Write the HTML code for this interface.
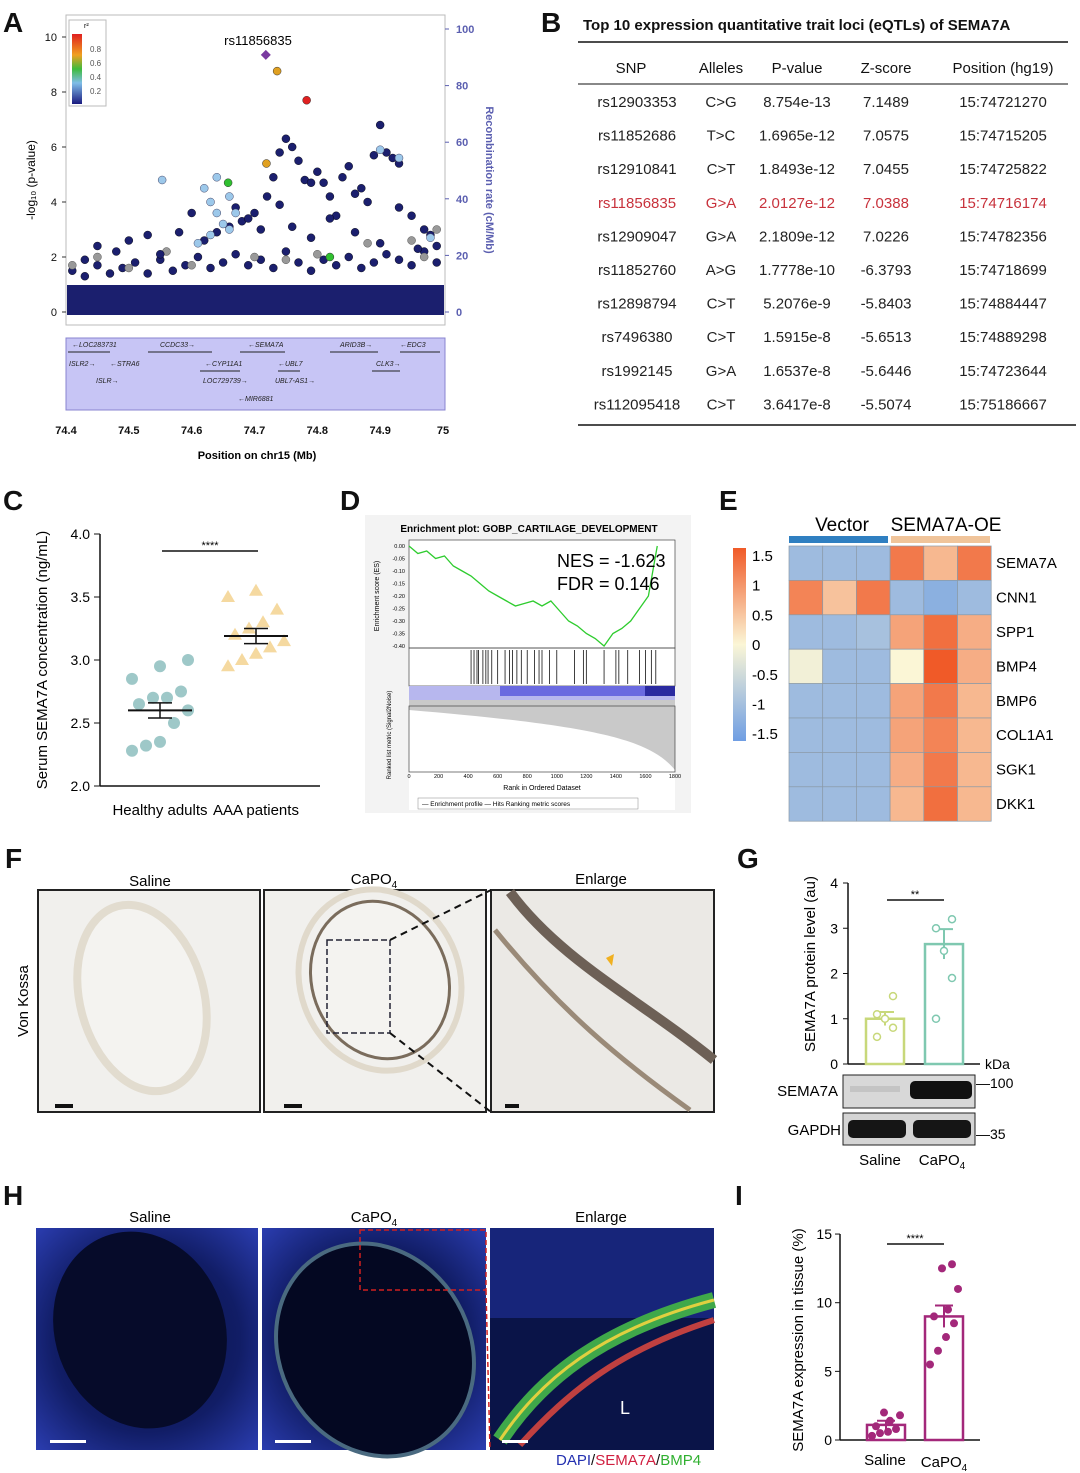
<!DOCTYPE html>
<html><head><meta charset="utf-8"><style>
body{margin:0;background:#fff}
svg{display:block;font-family:"Liberation Sans",Arial,sans-serif}
</style></head><body>
<svg id="fig" width="1080" height="1473" viewBox="0 0 1080 1473" xmlns="http://www.w3.org/2000/svg">
<defs>
<linearGradient id="cbar" x1="0" y1="1" x2="0" y2="0"><stop offset="0" stop-color="#6f9ee3"/><stop offset="0.5" stop-color="#fbf6d6"/><stop offset="1" stop-color="#f05a28"/></linearGradient>
<radialGradient id="dapi" cx="0.5" cy="0.5" r="0.7"><stop offset="0" stop-color="#0a1240"/><stop offset="0.6" stop-color="#111d66"/><stop offset="1" stop-color="#2a3cae"/></radialGradient>
<linearGradient id="leg" x1="0" y1="1" x2="0" y2="0"><stop offset="0" stop-color="#1a1a80"/><stop offset="0.3" stop-color="#7fbde8"/><stop offset="0.5" stop-color="#3dbb3d"/><stop offset="0.7" stop-color="#f0a020"/><stop offset="1" stop-color="#e02020"/></linearGradient>
</defs>

<g font-size="28" font-weight="bold" fill="#111">
<text x="3" y="32">A</text>
<text x="541" y="32">B</text>
<text x="3" y="510">C</text>
<text x="340" y="510">D</text>
<text x="719" y="510">E</text>
<text x="5" y="868">F</text>
<text x="737" y="868">G</text>
<text x="3" y="1205">H</text>
<text x="735" y="1205">I</text>
</g>

<g>
<rect x="66" y="15" width="379" height="310" fill="none" stroke="#bbb"/>
<rect x="67" y="285" width="377" height="30" fill="#1b1f6e"/>
<g id="aMarks"></g>
<g id="aAxes" font-size="11" fill="#111"></g>
<text x="258" y="45" font-size="13" text-anchor="middle">rs11856835</text>
<g><rect x="69" y="20" width="37" height="86" fill="#fff" stroke="#bbb"/>
<rect x="72" y="34" width="10" height="70" fill="url(#leg)"/>
<text x="84" y="28" font-size="7">r²</text>
<g font-size="8" fill="#555"><text x="90" y="52">0.8</text><text x="90" y="66">0.6</text><text x="90" y="80">0.4</text><text x="90" y="94">0.2</text></g></g>
<text transform="translate(35,180) rotate(-90)" font-size="12" text-anchor="middle">-log₁₀ (p-value)</text>
<text transform="translate(486,180) rotate(90)" font-size="11" font-weight="bold" fill="#5b5fb0" text-anchor="middle">Recombination rate (cM/Mb)</text>
<rect x="66" y="338" width="379" height="72" fill="#c7c5f5" stroke="#8884d0"/>
<g font-size="7" font-style="italic" fill="#222">
<text x="72" y="347">←LOC283731</text><text x="160" y="347">CCDC33→</text><text x="248" y="347">←SEMA7A</text><text x="340" y="347">ARID3B→</text><text x="400" y="347">←EDC3</text>
<text x="69" y="366">ISLR2→</text><text x="110" y="366">←STRA6</text><text x="205" y="366">←CYP11A1</text><text x="278" y="366">←UBL7</text><text x="376" y="366">CLK3→</text>
<text x="96" y="383">ISLR→</text><text x="203" y="383">LOC729739→</text><text x="275" y="383">UBL7-AS1→</text><text x="238" y="401">←MIR6881</text>
</g>
<g stroke="#222" stroke-width="1"><line x1="68" y1="352" x2="110" y2="352"/><line x1="148" y1="352" x2="212" y2="352"/><line x1="240" y1="352" x2="285" y2="352"/><line x1="330" y1="352" x2="378" y2="352"/><line x1="400" y1="352" x2="440" y2="352"/><line x1="200" y1="371" x2="240" y2="371"/><line x1="278" y1="371" x2="300" y2="371"/><line x1="372" y1="371" x2="400" y2="371"/></g>
<text x="257" y="459" font-size="11" font-weight="bold" text-anchor="middle">Position on chr15 (Mb)</text>
</g>

<g font-size="15" fill="#111">
<text x="583" y="30" font-size="15" font-weight="bold">Top 10 expression quantitative trait loci (eQTLs) of SEMA7A</text>
<line x1="578" y1="42" x2="1068" y2="42" stroke="#111" stroke-width="1.5"/>
<line x1="578" y1="84" x2="1068" y2="84" stroke="#111"/>
<line x1="578" y1="425" x2="1076" y2="425" stroke="#111" stroke-width="1.5"/>
<g id="tbl"></g>
</g>

<g><g id="cChart" font-size="14"></g>
<text transform="translate(47,660) rotate(-90)" font-size="15" text-anchor="middle">Serum SEMA7A concentration (ng/mL)</text></g>

<g>
<rect x="365" y="515" width="326" height="298" fill="#f3f3f3"/>
<rect x="409" y="540" width="266" height="270" fill="#fff"/>
<text x="529" y="532" font-size="10" font-weight="bold" text-anchor="middle">Enrichment plot: GOBP_CARTILAGE_DEVELOPMENT</text>
<rect x="409" y="540" width="266" height="108" fill="none" stroke="#444" stroke-width="0.7"/>
<rect x="409" y="648" width="266" height="38" fill="none" stroke="#444" stroke-width="0.7"/>
<rect x="409" y="686" width="266" height="20" fill="#b7b7ee"/><rect x="500" y="686" width="145" height="10" fill="#6a6ae0"/><rect x="645" y="686" width="30" height="10" fill="#2a2aa0"/>
<path d="M409,700 L675,700 L675,770 C650,740 600,726 409,710 Z" fill="#c9c9c9"/>
<rect x="409" y="706" width="266" height="66" fill="none" stroke="#444" stroke-width="0.7"/>
<g id="dChart"></g>
<text x="557" y="567" font-size="18">NES = -1.623</text>
<text x="557" y="590" font-size="18">FDR = 0.146</text>
<text x="542" y="790" font-size="7" text-anchor="middle">Rank in Ordered Dataset</text>
<text transform="translate(379,596) rotate(-90)" font-size="7" text-anchor="middle">Enrichment score (ES)</text>
<text transform="translate(391,735) rotate(-90)" font-size="6" text-anchor="middle">Ranked list metric (Signal2Noise)</text>
<rect x="418" y="798" width="220" height="11" fill="#fff" stroke="#888" stroke-width="0.5"/>
<text x="422" y="806" font-size="6.5">— Enrichment profile  — Hits        Ranking metric scores</text>
</g>

<g>
<text x="842" y="531" font-size="19" text-anchor="middle">Vector</text>
<text x="946" y="531" font-size="19" text-anchor="middle">SEMA7A-OE</text>
<rect x="789" y="536" width="99" height="7" fill="#2f7fc1"/><rect x="891" y="536" width="99" height="7" fill="#f0c49a"/>
<rect x="733" y="548" width="13" height="193" fill="url(#cbar)"/>
<g id="eChart" font-size="15"></g>
</g>

<g font-size="15">
<text x="150" y="886" text-anchor="middle">Saline</text><text x="374" y="884" text-anchor="middle">CaPO<tspan font-size="10" dy="4">4</tspan></text><text x="601" y="884" text-anchor="middle">Enlarge</text>
<text transform="translate(28,1001) rotate(-90)" text-anchor="middle" font-size="15">Von Kossa</text>
<rect x="38" y="890" width="222" height="222" fill="#f1f0ed" stroke="#222" stroke-width="2"/>
<ellipse cx="142" cy="998" rx="62" ry="95" fill="#f4f3f0" stroke="#e2dccf" stroke-width="8" transform="rotate(-15 142 998)"/>
<rect x="264" y="890" width="222" height="222" fill="#f1f0ed" stroke="#222" stroke-width="2"/>
<ellipse cx="380" cy="980" rx="68" ry="80" fill="#f4f3f0" stroke="#7a6c5c" stroke-width="3" transform="rotate(-20 380 980)"/>
<ellipse cx="380" cy="980" rx="80" ry="92" fill="none" stroke="#e0d9cb" stroke-width="6" transform="rotate(-20 380 980)"/>
<rect x="327" y="940" width="63" height="93" fill="none" stroke="#223" stroke-width="1.5" stroke-dasharray="6,3"/>
<rect x="491" y="890" width="223" height="222" fill="#ebe9e5" stroke="#222" stroke-width="2"/>
<path d="M510,892 C560,960 640,1000 714,1060" stroke="#6d6056" stroke-width="10" fill="none"/><path d="M495,930 C560,1010 620,1060 690,1110" stroke="#9a8a78" stroke-width="5" fill="none"/>
<polygon points="606,958 614,954 612,966" fill="#f0b020"/>
<line x1="390" y1="940" x2="491" y2="890" stroke="#111" stroke-width="2" stroke-dasharray="7,5"/><line x1="390" y1="1033" x2="491" y2="1112" stroke="#111" stroke-width="2" stroke-dasharray="7,5"/>
<g fill="#111"><rect x="55" y="1104" width="18" height="4"/><rect x="284" y="1104" width="18" height="4"/><rect x="505" y="1104" width="14" height="4"/></g>
</g>

<g><g id="gChart" font-size="14"></g>
<text transform="translate(815,964) rotate(-90)" font-size="15" text-anchor="middle">SEMA7A protein level (au)</text>
<text x="985" y="1069" font-size="14">kDa</text>
<rect x="843" y="1075" width="132" height="33" fill="#d8d8d8" stroke="#222"/>
<rect x="910" y="1081" width="62" height="18" rx="5" fill="#111"/><rect x="850" y="1086" width="50" height="6" fill="#c4c4c4"/>
<rect x="843" y="1113" width="132" height="32" fill="#d4d4d4" stroke="#222"/>
<rect x="848" y="1120" width="58" height="18" rx="5" fill="#151515"/><rect x="913" y="1120" width="58" height="18" rx="5" fill="#151515"/>
<text x="838" y="1096" font-size="15" text-anchor="end">SEMA7A</text><text x="841" y="1135" font-size="15" text-anchor="end">GAPDH</text>
<text x="976" y="1088" font-size="14">—100</text><text x="976" y="1139" font-size="14">—35</text>
<text x="880" y="1165" font-size="15" text-anchor="middle">Saline</text><text x="942" y="1165" font-size="15" text-anchor="middle">CaPO<tspan font-size="10" dy="4">4</tspan></text>
</g>

<g font-size="15">
<text x="150" y="1222" text-anchor="middle">Saline</text><text x="374" y="1222" text-anchor="middle">CaPO<tspan font-size="10" dy="4">4</tspan></text><text x="601" y="1222" text-anchor="middle">Enlarge</text>
<rect x="36" y="1228" width="222" height="222" fill="url(#dapi)"/>
<ellipse cx="140" cy="1330" rx="85" ry="100" fill="#060b2a" transform="rotate(-20 140 1330)"/>
<rect x="262" y="1228" width="224" height="222" fill="url(#dapi)"/>
<ellipse cx="375" cy="1350" rx="95" ry="110" fill="#040822" stroke="#4a6a80" stroke-width="4" transform="rotate(-30 375 1350)"/>
<rect x="360" y="1230" width="126" height="60" fill="none" stroke="#d02020" stroke-width="1.5" stroke-dasharray="5,3"/>
<rect x="490" y="1228" width="224" height="222" fill="#0a1448"/>
<rect x="490" y="1228" width="224" height="90" fill="#1d2c90" opacity="0.7"/>
<path d="M500,1440 C540,1380 600,1330 714,1300" stroke="#3fa84a" stroke-width="16" fill="none"/><path d="M520,1445 C570,1390 620,1350 714,1320" stroke="#c04040" stroke-width="6" fill="none"/>
<path d="M500,1440 C540,1380 600,1330 714,1300" stroke="#e0d040" stroke-width="3" fill="none"/>
<line x1="486" y1="1290" x2="490" y2="1450" stroke="#d02020" stroke-width="1.5" stroke-dasharray="5,3"/>
<text x="620" y="1414" fill="#fff" font-size="18">L</text>
<g fill="#fff"><rect x="50" y="1440" width="36" height="3"/><rect x="275" y="1440" width="36" height="3"/><rect x="502" y="1440" width="26" height="3"/></g>
<text x="556" y="1465" font-size="15"><tspan fill="#2330b0">DAPI</tspan><tspan fill="#111">/</tspan><tspan fill="#d02040">SEMA7A</tspan><tspan fill="#111">/</tspan><tspan fill="#30b030">BMP4</tspan></text>
</g>

<g><g id="iChart" font-size="14"></g>
<text transform="translate(803,1340) rotate(-90)" font-size="15" text-anchor="middle">SEMA7A expression in tissue (%)</text>
<text x="885" y="1465" font-size="15" text-anchor="middle">Saline</text><text x="944" y="1467" font-size="15" text-anchor="middle">CaPO<tspan font-size="10" dy="4">4</tspan></text>
</g>
</svg>
<script>
const NS="http://www.w3.org/2000/svg";
function mk(p,t,a,txt){const e=document.createElementNS(NS,t);for(const k in a)e.setAttribute(k,a[k]);if(txt!==undefined)e.textContent=txt;p.appendChild(e);return e;}

const aTicksY=[0,2,4,6,8,10];
const aTicksR=[0,20,40,60,80,100];
const aTicksX=[74.4,74.5,74.6,74.7,74.8,74.9,75];
const navyPos=[74.62,74.64,74.66,74.68,74.70,74.72,74.73,74.74,74.75,74.76,74.77,74.78,74.79,74.80,74.81,74.82,74.83,74.84,74.85,74.86,74.87,74.88,74.89,74.9,74.91,74.92,74.93,74.95,74.97,74.99,74.5,74.55,74.58,74.45,74.43,74.48,74.53,74.6,74.67,74.69,74.71,74.74,74.76,74.79,74.82,74.86,74.9,74.93,74.96,74.98];
const navyLogP=[2.6,2.9,3.1,3.3,3.6,4.2,4.9,5.8,6.3,6.0,5.5,4.8,4.7,5.1,4.7,4.2,3.5,4.9,5.3,4.3,4.5,4.0,5.7,6.8,5.8,5.6,5.4,3.5,3.0,2.4,2.6,2.1,2.9,2.4,1.9,2.2,2.8,3.6,3.8,3.4,3.0,3.9,3.1,2.7,3.4,2.9,2.5,3.8,2.3,2.8];
const lowPos=[74.41,74.43,74.45,74.47,74.49,74.51,74.53,74.55,74.57,74.59,74.61,74.63,74.65,74.67,74.69,74.71,74.73,74.75,74.77,74.79,74.81,74.83,74.85,74.87,74.89,74.91,74.93,74.95,74.97,74.99];
const lowLogP=[1.5,1.3,1.7,1.4,1.6,1.8,1.4,1.9,1.5,1.7,2.0,1.6,1.8,2.1,1.7,1.9,1.6,2.2,1.8,1.5,1.9,1.7,2.0,1.6,1.8,2.1,1.9,1.7,2.2,1.8];
const lbPos=[74.553,74.62,74.63,74.64,74.65,74.66,74.63,74.67,74.61,74.64,74.66,74.9,74.93,74.98];
const lbLogP=[4.8,4.5,4.0,3.6,3.2,4.2,2.8,3.6,2.5,4.9,3.0,5.9,5.6,2.7];
const grayPos=[74.41,74.45,74.5,74.56,74.6,74.7,74.75,74.8,74.88,74.95,74.99,74.97];
const grayLogP=[1.7,2.0,1.6,2.2,1.7,2.0,1.9,2.1,2.5,2.6,3.0,2.0];
const leadPos=74.718, leadLogP=9.35;
const hiPos=[74.736,74.783,74.719,74.658,74.82];
const hiLogP=[8.76,7.7,5.4,4.7,2.0];
const hiCol=["#e0a020","#e02020","#e0a020","#30c030","#30c030"];

const ax=v=>66+(v-74.4)/0.6*377, ay=v=>312-v*27.5, ayr=v=>312-v*2.83;
(function(){const g=document.getElementById('aMarks'),t=document.getElementById('aAxes');
aTicksY.forEach(v=>{mk(t,'line',{x1:62,x2:66,y1:ay(v),y2:ay(v),stroke:'#333'});mk(t,'text',{x:57,y:ay(v)+4,'text-anchor':'end'},v);});
aTicksR.forEach(v=>{mk(t,'line',{x1:445,x2:449,y1:ayr(v),y2:ayr(v),stroke:'#5b5fb0'});mk(t,'text',{x:456,y:ayr(v)+4,fill:'#5b5fb0','font-weight':'bold'},v);});
aTicksX.forEach(v=>{mk(t,'text',{x:ax(v),y:434,'text-anchor':'middle','font-weight':'bold'},v);});
lowPos.forEach((p,i)=>{const c=mk(g,'circle',{cx:ax(p),cy:ay(lowLogP[i]),r:4,fill:'#1b1f6e',stroke:'#000','stroke-width':0.4});});
grayPos.forEach((p,i)=>{const c=mk(g,'circle',{cx:ax(p),cy:ay(grayLogP[i]),r:4,fill:'#999',stroke:'#555','stroke-width':0.5});});
navyPos.forEach((p,i)=>{const c=mk(g,'circle',{cx:ax(p),cy:ay(navyLogP[i]),r:4,fill:'#1b1f6e',stroke:'#000','stroke-width':0.4});});
lbPos.forEach((p,i)=>{const c=mk(g,'circle',{cx:ax(p),cy:ay(lbLogP[i]),r:4,fill:'#9cc8ea',stroke:'#446','stroke-width':0.5});});
hiPos.forEach((p,i)=>{const c=mk(g,'circle',{cx:ax(p),cy:ay(hiLogP[i]),r:4,fill:hiCol[i],stroke:'#333','stroke-width':0.5});});
const x=ax(leadPos),y=ay(leadLogP);const d=mk(g,'polygon',{points:`${x},${y-5} ${x+5},${y} ${x},${y+5} ${x-5},${y}`,fill:'#7a3aa0'});

})();

const tHead=["SNP","Alleles","P-value","Z-score","Position (hg19)"];
const tSnp=["rs12903353","rs11852686","rs12910841","rs11856835","rs12909047","rs11852760","rs12898794","rs7496380","rs1992145","rs112095418"];
const tAll=["C>G","T>C","C>T","G>A","G>A","A>G","C>T","C>T","G>A","C>T"];
const tP=["8.754e-13","1.6965e-12","1.8493e-12","2.0127e-12","2.1809e-12","1.7778e-10","5.2076e-9","1.5915e-8","1.6537e-8","3.6417e-8"];
const tZ=["7.1489","7.0575","7.0455","7.0388","7.0226","-6.3793","-5.8403","-5.6513","-5.6446","-5.5074"];
const tPos=["15:74721270","15:74715205","15:74725822","15:74716174","15:74782356","15:74718699","15:74884447","15:74889298","15:74723644","15:75186667"];
(function(){const g=document.getElementById('tbl');const cx=[631,721,797,886,1003];
tHead.forEach((h,i)=>mk(g,'text',{x:cx[i],y:73,'text-anchor':'middle'},h));
tSnp.forEach((s,r)=>{const y=107+r*33.6,col=r===3?'#c8323c':'#222';
[s,tAll[r],tP[r],tZ[r],tPos[r]].forEach((v,i)=>{const e=mk(g,'text',{x:cx[i]+(i==0?6:0),y:y,'text-anchor':'middle',fill:col},v);});});})();

const cGroups=["Healthy adults","AAA patients"];
const cHealthy=[2.28,2.32,2.35,2.5,2.6,2.65,2.7,2.7,2.75,2.85,2.95,3.0];
const cAAA=[2.95,3.0,3.05,3.1,3.15,3.2,3.25,3.3,3.4,3.5,3.55];
const cMean=[2.6,3.19], cSem=[0.06,0.06];
const cTicks=[2.0,2.5,3.0,3.5,4.0];
(function(){const g=document.getElementById('cChart');const cy=v=>786-(v-2)*126;const gx=[160,256];
mk(g,'line',{x1:100,x2:100,y1:534,y2:786,stroke:'#111','stroke-width':1.5});mk(g,'line',{x1:100,x2:320,y1:786,y2:786,stroke:'#111','stroke-width':1.5});
cTicks.forEach(v=>{mk(g,'line',{x1:94,x2:100,y1:cy(v),y2:cy(v),stroke:'#111'});mk(g,'text',{x:90,y:cy(v)+5,'text-anchor':'end'},v.toFixed(1));});
cGroups.forEach((n,i)=>mk(g,'text',{x:gx[i],y:815,'text-anchor':'middle','font-size':15},n));
const offs=[-28,-14,0,14,28,-21,-7,7,21,-28,0,28];
cHealthy.forEach((v,i)=>{const c=mk(g,'circle',{cx:gx[0]+offs[i%offs.length],cy:cy(v),r:6,fill:'#9ec8c8'});});
cAAA.forEach((v,i)=>{const x=gx[1]+offs[i%offs.length],y=cy(v);const c=mk(g,'polygon',{points:`${x},${y-7} ${x+7},${y+5} ${x-7},${y+5}`,fill:'#f5d9a0'});});
cMean.forEach((m,i)=>{mk(g,'line',{x1:gx[i]-32,x2:gx[i]+32,y1:cy(m),y2:cy(m),stroke:'#111','stroke-width':2});mk(g,'line',{x1:gx[i],x2:gx[i],y1:cy(m-cSem[i]),y2:cy(m+cSem[i]),stroke:'#111','stroke-width':1.5});
[m-cSem[i],m+cSem[i]].forEach(v=>mk(g,'line',{x1:gx[i]-12,x2:gx[i]+12,y1:cy(v),y2:cy(v),stroke:'#111','stroke-width':1.5}));});
mk(g,'line',{x1:162,x2:258,y1:551,y2:551,stroke:'#111','stroke-width':1.5});mk(g,'text',{x:210,y:549,'text-anchor':'middle','font-size':11},'****');})();

const dES=[0,-0.03,-0.02,-0.05,-0.04,-0.08,-0.1,-0.12,-0.15,-0.18,-0.2,-0.22,-0.24,-0.23,-0.22,-0.24,-0.22,-0.26,-0.3,-0.32,-0.35,-0.37,-0.4,-0.35,-0.33,-0.3,-0.25,-0.2,0.0];
const dTicksY=[0,-0.05,-0.1,-0.15,-0.2,-0.25,-0.3,-0.35,-0.4];
const dTicksX=[0,200,400,600,800,1000,1200,1400,1600,1800];
const dHits=[420,440,460,470,500,520,535,560,600,650,680,700,730,760,800,850,880,900,950,1000,1120,1180,1200,1320,1400,1420,1480,1560,1600,1640,1670];
(function(){const g=document.getElementById('dChart');const dx=v=>409+v/1800*266,dy=v=>546+(-v)/0.4*100;
dTicksY.forEach(v=>mk(g,'text',{x:405,y:dy(v)+2,'text-anchor':'end','font-size':5.5},v.toFixed(2)));
dTicksX.forEach(v=>mk(g,'text',{x:dx(v),y:778,'text-anchor':'middle','font-size':5.5},v));
const pts=dES.map((v,i)=>`${dx(i*1680/(dES.length-1))},${dy(v)}`).join(' ');
const l=mk(g,'polyline',{points:pts,fill:'none',stroke:'#2ecc2e','stroke-width':1.3});
dHits.forEach(h=>{const e=mk(g,'line',{x1:dx(h),x2:dx(h),y1:650,y2:684,stroke:'#111','stroke-width':0.8});});})();

const eGenes=["SEMA7A","CNN1","SPP1","BMP4","BMP6","COL1A1","SGK1","DKK1"];
const eValues=[[-1,-1,-1,1.2,0.6,1.2],[1.1,0.5,1.2,-1,-1.2,-1],[-1,-1,-0.9,0.8,1.3,0.7],[-0.1,-1,-1,0,1.7,0.7],[-1,-1,-1,0.8,1.2,0.6],[-1,-1,-1,0.8,1.1,0.6],[-1,-1,-1,0.7,1.2,0.6],[-1,-1,-1,0.6,1.3,0.6]];
const eTicks=[1.5,1,0.5,0,-0.5,-1,-1.5];
(function(){const g=document.getElementById('eChart');
function col(v){v=Math.max(-1.5,Math.min(1.7,v));const lo=[111,158,227],mid=[251,246,214],hi=[240,90,40];let a,b,t;if(v<0){a=mid;b=lo;t=-v/1.5;}else{a=mid;b=hi;t=v/1.5;}t=Math.min(t,1);return`rgb(${a.map((c,i)=>Math.round(c+(b[i]-c)*t)).join(',')})`;}
const w=33.7,h=34.4;
eValues.forEach((row,r)=>{row.forEach((v,c)=>{const e=mk(g,'rect',{x:789+c*w,y:546+r*h,width:w,height:h,fill:col(v),stroke:'#8a9aa8','stroke-width':0.7});});
mk(g,'text',{x:996,y:546+r*h+h/2+5},eGenes[r]);});
eTicks.forEach((v,i)=>mk(g,'text',{x:752,y:561+i*29.7},v));})();

const gMean=[1.0,2.65], gSem=[0.15,0.33];
const gSaline=[0.6,0.8,1.0,1.1,1.5];
const gCapo=[1.0,1.9,2.5,3.0,3.2];
const gTicks=[0,1,2,3,4];
(function(){const g=document.getElementById('gChart');const y=v=>1064-v*45.25;const bx=[885,944],cs=['#c8d87a','#7fc8b0'];
mk(g,'line',{x1:848,x2:848,y1:883,y2:1064,stroke:'#111','stroke-width':1.5});mk(g,'line',{x1:848,x2:980,y1:1064,y2:1064,stroke:'#111','stroke-width':1.5});
gTicks.forEach(v=>{mk(g,'line',{x1:843,x2:848,y1:y(v),y2:y(v),stroke:'#111'});mk(g,'text',{x:838,y:y(v)+5,'text-anchor':'end'},v);});
gMean.forEach((m,i)=>{const b=mk(g,'rect',{x:bx[i]-19,y:y(m),width:38,height:1064-y(m),fill:'none',stroke:cs[i],'stroke-width':2.5});
mk(g,'line',{x1:bx[i],x2:bx[i],y1:y(m-gSem[i]),y2:y(m+gSem[i]),stroke:cs[i],'stroke-width':2});mk(g,'line',{x1:bx[i]-9,x2:bx[i]+9,y1:y(m+gSem[i]),y2:y(m+gSem[i]),stroke:cs[i],'stroke-width':2});});
const o=[-8,8,0,-8,8];
gSaline.forEach((v,i)=>{const c=mk(g,'circle',{cx:bx[0]+o[i],cy:y(v),r:3.5,fill:'#fff',stroke:cs[0],'stroke-width':1.5});});
gCapo.forEach((v,i)=>{const c=mk(g,'circle',{cx:bx[1]+o[i],cy:y(v),r:3.5,fill:'#fff',stroke:cs[1],'stroke-width':1.5});});
mk(g,'line',{x1:887,x2:944,y1:900,y2:900,stroke:'#111','stroke-width':1.5});mk(g,'text',{x:915,y:898,'text-anchor':'middle','font-size':11},'**');})();

const iMean=[1.1,9.0], iSem=[0.3,0.8];
const iSaline=[0.3,0.5,0.6,0.8,1.0,1.4,1.8,2.0];
const iCapo=[5.5,6.5,7.5,8.5,9.0,9.5,11.0,12.5,12.8];
const iTicks=[0,5,10,15];
(function(){const g=document.getElementById('iChart');const y=v=>1440-v*13.73;const bx=[886,944],c='#a3287a';
mk(g,'line',{x1:840,x2:840,y1:1234,y2:1440,stroke:'#111','stroke-width':1.5});mk(g,'line',{x1:840,x2:980,y1:1440,y2:1440,stroke:'#111','stroke-width':1.5});
iTicks.forEach(v=>{mk(g,'line',{x1:835,x2:840,y1:y(v),y2:y(v),stroke:'#111'});mk(g,'text',{x:832,y:y(v)+5,'text-anchor':'end'},v);});
iMean.forEach((m,i)=>{const b=mk(g,'rect',{x:bx[i]-19,y:y(m),width:38,height:1440-y(m),fill:'none',stroke:c,'stroke-width':2.5});
mk(g,'line',{x1:bx[i],x2:bx[i],y1:y(m-iSem[i]),y2:y(m+iSem[i]),stroke:c,'stroke-width':2});mk(g,'line',{x1:bx[i]-9,x2:bx[i]+9,y1:y(m+iSem[i]),y2:y(m+iSem[i]),stroke:c,'stroke-width':2});});
const o=[-14,-6,2,10,-10,4,14,-2,8];
iSaline.forEach((v,i)=>{const p=mk(g,'circle',{cx:bx[0]+o[i],cy:y(v),r:4,fill:c});});
iCapo.forEach((v,i)=>{const p=mk(g,'circle',{cx:bx[1]+o[i],cy:y(v),r:4,fill:c});});
mk(g,'line',{x1:887,x2:944,y1:1244,y2:1244,stroke:'#111','stroke-width':1.5});mk(g,'text',{x:915,y:1242,'text-anchor':'middle','font-size':11},'****');})();
</script>
</body></html>
